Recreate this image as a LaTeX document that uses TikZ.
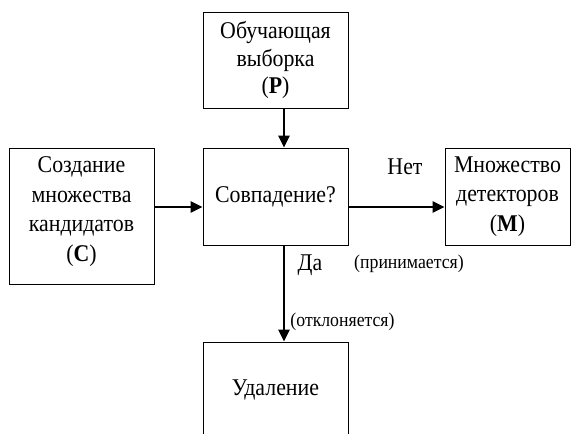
\documentclass[tikz,border=0pt]{standalone}
\usepackage{fontspec}
\setmainfont[FakeStretch=0.91]{Liberation Serif}
\usetikzlibrary{arrows.meta}
\tikzset{
  box/.style={draw, line width=1pt, inner sep=0pt, align=center, font=\fontsize{24}{29.7}\selectfont},
  txt/.style={inner sep=0pt, align=center, font=\fontsize{24}{29.7}\selectfont},
  arr/.style={line width=2.6pt, -{Triangle[length=12pt,width=11pt]}},
  lbl/.style={inner sep=0pt, font=\fontsize{24}{29}\selectfont},
  small/.style={inner sep=0pt, font=\fontsize{19.5}{21}\selectfont}
}
\begin{document}
\begin{tikzpicture}[x=1pt,y=-1pt]
\useasboundingbox (0,0) rectangle (571,434);
\node[box, minimum width=145pt, minimum height=96pt, font=\fontsize{24}{27.5}\selectfont] (P) at (275.5,60) {Обучающая\\выборка\\(\textbf{P})};
\node[box, minimum width=145pt, minimum height=97pt] (C) at (275.5,196.5) {Совпадение?};
\node[box, minimum width=145pt, minimum height=136pt] (L) at (81.5,216) {};
\node[txt] (Lt) at ([yshift=4.5pt]L.center) {Создание\\множества\\кандидатов\\(\textbf{C})};
\node[box, minimum width=125pt, minimum height=97pt] (M) at (507.5,196.5) {Множество\\детекторов\\(\textbf{M})};
\node[box, minimum width=145pt, minimum height=96pt] (U) at (275.5,390) {Удаление};
\draw[arr] ([xshift=8.5pt]P.south) -- ([xshift=8.5pt]C.north);
\draw[arr] (L.east |- 0,207) -- (C.west |- 0,207);
\draw[arr] (C.east |- 0,207) -- (M.west |- 0,207);
\draw[arr] ([xshift=8.5pt]C.south) -- ([xshift=8.5pt]U.north);
\node[lbl] (net) at (405,167) {Нет};
\node[lbl] (da) at (310,265) {Да};
\node[small] (prin) at (409,264) {(принимается)};
\node[small] (otkl) at (342.5,322) {(отклоняется)};
\end{tikzpicture}
\end{document}
